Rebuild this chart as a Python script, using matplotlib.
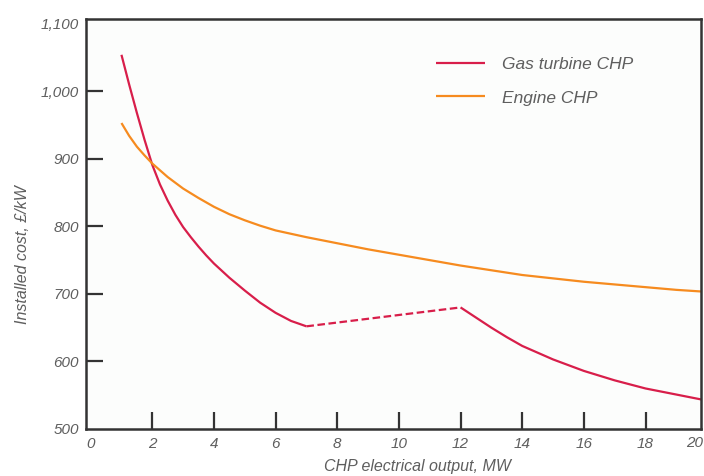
import matplotlib
matplotlib.use("Agg")
import matplotlib.pyplot as plt

# ---- data ----
gas_x1 = [1, 1.25, 1.5, 1.75, 2, 2.25, 2.5, 2.75, 3, 3.25, 3.5, 3.75, 4, 4.5, 5, 5.5, 6, 6.5, 7]
gas_y1 = [1054, 1010, 968, 928, 891, 862, 838, 817, 799, 784, 770, 757, 745, 724, 705, 687, 672, 660, 652]
gas_dash_x = [7, 12]
gas_dash_y = [652, 680]
gas_x2 = [12, 12.5, 13, 13.5, 14, 15, 16, 17, 18, 19, 20]
gas_y2 = [680, 665, 650, 636, 623, 603, 586, 572, 560, 551, 542]

eng_x = [1, 1.25, 1.5, 1.75, 2, 2.5, 3, 3.5, 4, 4.5, 5, 5.5, 6, 7, 8, 9, 10, 11, 12, 13, 14, 15, 16, 17, 18, 19, 20]
eng_y = [953, 934, 918, 905, 893, 873, 856, 842, 829, 818, 809, 801, 794, 784, 775, 766, 758, 750, 742, 735, 728, 723, 718, 714, 710, 706, 703]

x_ticks = [0, 2, 4, 6, 8, 10, 12, 14, 16, 18]
last_x_label = "20"
y_ticks = [500, 600, 700, 800, 900, 1000, 1100]
y_tick_labels = ["500", "600", "700", "800", "900", "1,000", "1,100"]

series_names = ["Gas turbine CHP", "Engine CHP"]
gas_color = "#d81e4a"
eng_color = "#f68b1f"
text_color = "#5e5e5e"
spine_color = "#333333"

plt.rcParams["font.family"] = ["Liberation Sans", "DejaVu Sans"]

fig = plt.figure(figsize=(7.04, 4.76), dpi=100)
W, H = 704, 476
ax = fig.add_axes([85.7 / W, (H - 429) / H, (701 - 85.7) / W, (429 - 19) / H])
ax.set_facecolor("#fcfdfc")

lw = 1.6
ax.plot(gas_x1, gas_y1, color=gas_color, lw=lw, label=series_names[0], solid_capstyle="butt")
ax.plot(gas_dash_x, gas_dash_y, color=gas_color, lw=lw, dashes=(3.4, 1.6))
ax.plot(gas_x2, gas_y2, color=gas_color, lw=lw, solid_capstyle="butt")
ax.plot(eng_x, eng_y, color=eng_color, lw=lw, label=series_names[1], solid_capstyle="butt")

ax.set_xlim(-0.16, 19.8)
ax.set_ylim(500, 1107)

ax.set_xticks(x_ticks)
ax.set_yticks(y_ticks)
ax.set_yticklabels(y_tick_labels)

ax.tick_params(axis="both", direction="in", length=12, width=1.6, color=spine_color,
               labelcolor=text_color, labelsize=11)
ax.tick_params(axis="x", pad=6)
ax.tick_params(axis="y", pad=5)
for lab in ax.get_xticklabels() + ax.get_yticklabels():
    lab.set_fontstyle("italic")

# no tick marks where ticks coincide with the frame
for t in ax.xaxis.get_major_ticks()[:1]:
    t.tick1line.set_visible(False)
yt = ax.yaxis.get_major_ticks()
for t in (yt[0], yt[-1]):
    t.tick1line.set_visible(False)

# the "20" label sits at the right edge of the image in the reference
fig.text(703 / W, 1 - 443 / H, last_x_label, ha="right", va="center", fontsize=11,
         style="italic", color=text_color)

for s in ax.spines.values():
    s.set_color(spine_color)
    s.set_linewidth(1.8)

fig.text(418 / W, 1 - 467 / H, "CHP electrical output, MW", ha="center", va="center",
         fontsize=11.5, style="italic", color=text_color)
fig.text(23 / W, 1 - 255 / H, "Installed cost, £/kW", ha="center", va="center",
         rotation=90, fontsize=11.5, style="italic", color=text_color)

leg = ax.legend(loc="upper left", bbox_to_anchor=((436 - 85.7) / 615.3, 1 - (57 - 19) / 410),
                frameon=False, fontsize=12.5, handlelength=2.8, handletextpad=1.0,
                labelspacing=1.05, borderpad=0, borderaxespad=0)
for t in leg.get_texts():
    t.set_fontstyle("italic")
    t.set_color(text_color)

fig.savefig("out.png", dpi=100, facecolor="white")
